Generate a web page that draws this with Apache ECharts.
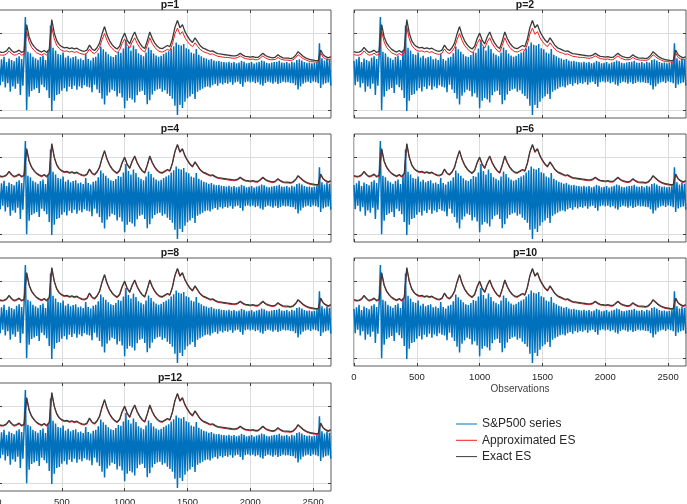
<!DOCTYPE html>
<html>
<head>
<meta charset="utf-8">
<title>S&amp;P500 ES</title>
<script src="https://cdn.jsdelivr.net/npm/echarts@6.0.0/dist/echarts.min.js"></script>
<style>
  html, body { margin: 0; padding: 0; background: #fff; }
  #chart { width: 687px; height: 504px; }
</style>
</head>
<body>
<div id="chart"></div>
<script>
// panel titles, in drawing order (left/right, top to bottom)
var panelTitles = ['p=1', 'p=2', 'p=4', 'p=6', 'p=8', 'p=10', 'p=12'];
var xTicks = [0, 500, 1000, 1500, 2000, 2500];
var yTicks = [-10, 0, 10];
var seriesNames = ['S&P500 series', 'Approximated ES', 'Exact ES'];

// S&P500 series, one reading every 10 observations
var retStep = 10;
var sp500 = [
  2.8,-3.5,3.2,-2.6,3.9,-4.1,2.5,-3.0,3.4,-5.2, 3.0,-3.8,2.7,-4.4,3.6,-3.1,4.0,-6.0,3.3,-3.6,
  4.5,14.2,-10.0,5.2,-6.5,4.8,-5.0,3.9,-4.6,3.5, -4.2,3.1,-5.5,3.8,-3.4,4.2,-4.0,3.0,-4.8,5.5,
  -6.8,12.0,-10.2,6.2,-7.5,5.5,-6.0,4.6,-5.8,4.4, -4.9,5.0,-4.3,3.7,-5.1,4.1,-3.9,3.5,-4.5,3.8,
  -3.6,4.0,-4.7,3.2,-3.8,3.4,-4.3,3.0,-3.5,4.6, -3.9,3.3,-4.1,2.9,-5.3,3.6,-3.4,3.9,-4.6,4.8,
  -5.5,6.5,-7.0,5.8,-8.5,5.2,-6.2,4.5,-5.4,4.0, -4.7,3.8,-5.0,4.3,-6.4,5.1,-5.6,4.9,-6.7,6.0,
  -9.5,8.2,-7.5,6.4,-6.8,5.5,-7.2,6.8,-8.0,5.9, -6.1,4.8,-5.2,4.4,-4.9,4.0,-6.0,5.0,-8.4,6.3,
  -7.4,5.6,-5.9,4.7,-5.0,4.2,-4.6,3.9,-4.4,4.1, -5.2,4.6,-4.8,5.0,-5.7,5.3,-6.3,6.0,-7.0,6.6,
  -8.8,7.6,-11.2,7.0,-8.6,6.8,-9.4,7.2,-7.8,6.1, -6.9,5.8,-6.4,5.0,-5.8,4.7,-7.1,5.9,-5.2,4.4,
  -4.8,4.0,-4.4,3.6,-4.0,3.4,-3.8,3.1,-4.1,3.3, -3.5,2.9,-3.2,2.7,-3.6,2.8,-3.0,2.6,-3.3,2.5,
  -2.9,2.4,-3.1,2.6,-2.7,2.3,-3.4,2.5,-2.8,2.2, -2.6,2.4,-3.2,2.8,-3.9,2.6,-2.7,2.2,-2.5,2.3,
  -2.8,2.5,-2.6,2.1,-3.0,2.4,-2.7,2.6,-3.3,2.9, -3.6,2.7,-2.9,2.3,-2.6,2.2,-2.8,2.4,-3.1,2.5,
  -2.7,2.6,-3.2,2.8,-2.9,2.4,-2.6,2.3,-2.8,2.5, -2.7,2.2,-2.9,2.6,-3.0,2.4,-3.5,3.0,-4.6,3.2,
  -3.8,2.9,-3.1,2.5,-2.8,2.3,-2.6,2.4,-2.9,2.2, -2.5,2.3,-2.7,2.6,-3.0,7.4,-4.2,3.5,-3.3,2.9,
  -3.0,3.4,-2.8,3.1,-3.6
];

// ES curves, one reading every 20 observations
var esStep = 20;
var exactES = [
  5.2,5.0,5.1,5.4,6.3,5.5,5.0,5.2,5.6,5.0,
  5.3,12.2,9.0,7.4,6.5,5.8,5.4,5.1,5.5,5.0,
  5.8,13.5,10.0,8.0,7.0,6.5,6.2,6.3,6.0,6.2,
  5.9,6.1,5.7,5.4,5.3,5.6,6.9,5.9,5.5,6.2,
  7.4,9.8,11.7,9.5,8.0,7.0,6.3,5.9,6.6,8.6,
  10.0,8.2,7.2,9.0,10.3,8.6,7.4,6.5,6.0,8.0,
  10.3,8.6,7.4,6.6,6.1,6.0,6.4,6.8,6.5,8.5,
  11.5,13.3,11.4,12.2,10.4,9.2,8.2,7.6,8.8,7.8,
  6.8,6.2,5.9,5.6,5.3,5.4,5.0,4.7,4.6,4.5,
  4.4,4.3,4.2,4.1,4.1,4.3,4.8,4.3,4.0,3.9,
  3.8,3.9,3.7,3.7,4.2,4.8,4.2,3.9,3.7,3.6,
  3.8,4.4,3.9,3.6,3.5,3.5,3.4,3.6,4.2,5.2,
  4.6,4.0,3.6,3.3,3.1,3.0,2.9,2.9,5.6,4.4,
  3.9,3.6,3.9
];
// approximated ES for p=1 and p=2 (sits visibly below the exact curve)
var approxLow = [
  4.4,4.3,4.3,4.6,5.4,4.7,4.3,4.4,4.8,4.3,
  4.5,10.4,7.7,6.3,5.5,4.9,4.6,4.3,4.7,4.3,
  4.9,11.5,8.5,6.8,6.0,5.5,5.3,5.4,5.1,5.3,
  5.0,5.2,4.8,4.6,4.5,4.8,5.9,5.0,4.7,5.3,
  6.3,8.3,9.9,8.1,6.8,6.0,5.4,5.0,5.6,7.3,
  8.5,7.0,6.1,7.7,8.8,7.3,6.3,5.5,5.1,6.8,
  8.8,7.3,6.3,5.6,5.2,5.1,5.4,5.8,5.5,7.2,
  9.8,11.3,9.7,10.4,8.8,7.8,7.0,6.5,7.5,6.6,
  5.8,5.3,5.0,4.8,4.5,4.6,4.3,4.0,3.9,3.8,
  3.7,3.7,3.6,3.5,3.5,3.7,4.1,3.7,3.4,3.3,
  3.2,3.3,3.1,3.1,3.6,4.1,3.6,3.3,3.1,3.1,
  3.2,3.7,3.3,3.1,3.0,3.0,2.9,3.1,3.6,4.4,
  3.9,3.4,3.1,2.8,2.6,2.6,2.5,2.5,4.8,3.7,
  3.3,3.1,3.3
];
// approximated ES for p>=4 (almost on top of the exact curve)
var approxClose = [
  5.0,4.8,4.9,5.2,6.1,5.3,4.8,5.0,5.4,4.8,
  5.1,12.0,8.8,7.2,6.3,5.6,5.2,4.9,5.3,4.8,
  5.6,13.3,9.8,7.8,6.8,6.3,6.0,6.1,5.8,6.0,
  5.7,5.9,5.5,5.2,5.1,5.4,6.7,5.7,5.3,6.0,
  7.2,9.6,11.5,9.3,7.8,6.8,6.1,5.7,6.4,8.4,
  9.8,8.0,7.0,8.8,10.1,8.4,7.2,6.3,5.8,7.8,
  10.1,8.4,7.2,6.4,5.9,5.8,6.2,6.6,6.3,8.3,
  11.3,13.1,11.2,12.0,10.2,9.0,8.0,7.4,8.6,7.6,
  6.6,6.0,5.7,5.4,5.1,5.2,4.8,4.5,4.4,4.3,
  4.2,4.1,4.0,3.9,3.9,4.1,4.6,4.1,3.8,3.7,
  3.6,3.7,3.5,3.5,4.0,4.6,4.0,3.7,3.5,3.4,
  3.6,4.2,3.7,3.4,3.3,3.3,3.2,3.4,4.0,5.0,
  4.4,3.8,3.4,3.1,2.9,2.8,2.7,2.7,5.4,4.2,
  3.7,3.4,3.7
];
var approxByPanel = [approxLow, approxLow, approxClose, approxClose, approxClose, approxClose, approxClose];

// layout (px)
var colLeft = [-1, 354];
var rowTop = [10, 134, 258, 383];
var plotW = 332, plotH = 108;
var font = "'Liberation Sans', Arial, Helvetica, sans-serif";
var axisColor = '#404040';
var gridColor = '#dcdcdc';

function toPairs(arr, step) {
  return arr.map(function (v, i) { return [i * step, v]; });
}

var grids = [], xAxes = [], yAxes = [], series = [], titles = [];

panelTitles.forEach(function (t, i) {
  var col = i % 2, row = Math.floor(i / 2);
  var left = colLeft[col], top = rowTop[row];
  var showLabels = (t === 'p=10' || t === 'p=12');

  grids.push({
    left: left, top: top, width: plotW, height: plotH,
    show: true, borderColor: '#5a5a5a', borderWidth: 1,
    containLabel: false, outerBoundsMode: 'none'
  });

  titles.push({
    text: t, left: left + plotW / 2, top: top - 15, textAlign: 'center',
    textStyle: { fontSize: 10.5, fontWeight: 'bold', color: '#1a1a1a', fontFamily: font }
  });

  var xBase = {
    type: 'value', gridIndex: i, min: 0, max: 2642,
    axisLine: { show: false, onZero: false },
    axisTick: { show: true, inside: true, length: 3, customValues: xTicks,
      lineStyle: { color: axisColor } }
  };
  xAxes.push(Object.assign({}, xBase, {
    position: 'bottom',
    splitLine: { show: true, lineStyle: { color: gridColor, width: 1 } },
    axisLabel: { show: showLabels, customValues: xTicks, margin: 6,
      fontSize: 9.5, color: '#262626', fontFamily: font,
      formatter: function (v) { return String(v); } },
    name: showLabels ? 'Observations' : '',
    nameLocation: 'middle', nameGap: 18,
    nameTextStyle: { fontSize: 10, color: '#404040', fontFamily: font }
  }));
  xAxes.push(Object.assign({}, xBase, {
    position: 'top', splitLine: { show: false }, axisLabel: { show: false }
  }));

  var yBase = {
    type: 'value', gridIndex: i, min: -12, max: 16,
    axisLine: { show: false, onZero: false },
    axisTick: { show: true, inside: true, length: 3, customValues: yTicks,
      lineStyle: { color: axisColor } },
    axisLabel: { show: false, customValues: yTicks }
  };
  yAxes.push(Object.assign({}, yBase, {
    position: 'left',
    splitLine: { show: true, lineStyle: { color: gridColor, width: 1 } }
  }));
  yAxes.push(Object.assign({}, yBase, {
    position: 'right', splitLine: { show: false }
  }));

  var common = { type: 'line', xAxisIndex: 2 * i, yAxisIndex: 2 * i,
    symbol: 'none', silent: true, animation: false };
  series.push(Object.assign({}, common, {
    name: seriesNames[0], data: toPairs(sp500, retStep),
    lineStyle: { color: '#0072BD', width: 1.5 }, itemStyle: { color: '#0072BD' }
  }));
  series.push(Object.assign({}, common, {
    name: seriesNames[1], data: toPairs(approxByPanel[i], esStep),
    lineStyle: { color: '#ee1c1c', width: 1 }, itemStyle: { color: '#ee1c1c' }
  }));
  series.push(Object.assign({}, common, {
    name: seriesNames[2], data: toPairs(exactES, esStep),
    lineStyle: { color: '#3a3a3a', width: 1.3 }, itemStyle: { color: '#3a3a3a' }
  }));
});

var chart = echarts.init(document.getElementById('chart'), null, { renderer: 'canvas' });
chart.setOption({
  backgroundColor: '#ffffff',
  animation: false,
  title: titles,
  grid: grids,
  xAxis: xAxes,
  yAxis: yAxes,
  legend: {
    data: seriesNames, orient: 'vertical', left: 456, top: 416,
    padding: 0, icon: 'rect', itemWidth: 21, itemHeight: 1, itemGap: 0.3,
    textStyle: { fontSize: 12, lineHeight: 16, color: '#262626', fontFamily: font },
    selectedMode: false
  },
  series: series
});
</script>
</body>
</html>
